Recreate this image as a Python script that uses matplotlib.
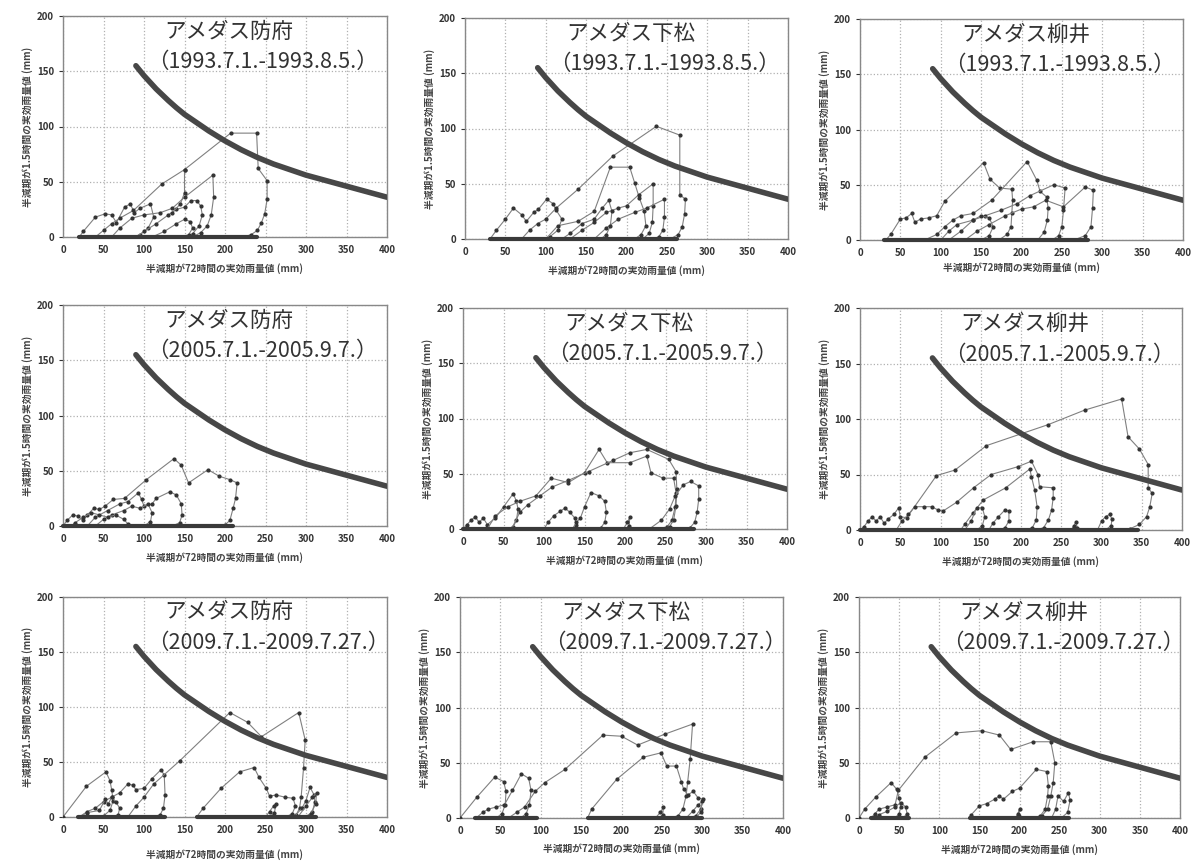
import matplotlib
matplotlib.use("Agg")
import matplotlib.pyplot as plt

plt.rcParams['font.family'] = ['Noto Sans CJK JP', 'DejaVu Sans']

# critical line (shared by all panels)
curve_x = [90, 95, 100, 105, 110, 115, 120, 130, 140, 150, 160, 170, 180, 190, 200, 210, 220, 230, 240,
           250, 260, 270, 280, 290, 300, 320, 340, 360, 380, 400]
curve_y = [155, 150.5, 146, 142, 138, 134, 130.5, 123.5, 117, 111, 106, 101, 96, 91.5, 87, 83, 79, 75.5,
           72, 69, 66, 63.5, 61, 58.5, 56, 52, 48, 44, 40, 36]

xticks = [0, 50, 100, 150, 200, 250, 300, 350, 400]
yticks = [0, 50, 100, 150, 200]

stations = ["アメダス防府", "アメダス下松", "アメダス柳井"]
periods = ["（1993.7.1.-1993.8.5.）", "（2005.7.1.-2005.9.7.）", "（2009.7.1.-2009.7.27.）"]

xlabel = "半減期が72時間の実効雨量値 (mm)"
ylabel = "半減期が1.5時間の実効雨量値 (mm)"

# snake lines, one list of loops per panel: (x72h, y1.5h)
hofu_1993 = [
    [(20, 0), (25, 5), (40, 18), (52, 21), (60, 20), (66, 13), (76, 27), (83, 30), (88, 22), (95, 26),
     (108, 30), (112, 18), (105, 8), (95, 2), (85, 0)],
    [(40, 0), (50, 6), (60, 12), (70, 17), (87, 24), (122, 48), (150, 61), (207, 94), (239, 94), (241, 62),
     (252, 51), (252, 34), (249, 21), (245, 13), (240, 6), (232, 2), (222, 0)],
    [(60, 0), (70, 8), (85, 17), (100, 20), (120, 22), (135, 26), (150, 36), (185, 56), (186, 36), (183, 20),
     (178, 10), (170, 4), (160, 0)],
    [(90, 0), (100, 5), (115, 12), (130, 20), (140, 25), (150, 27), (158, 33), (165, 33), (170, 28), (172, 20),
     (168, 10), (160, 3), (150, 0)],
    [(110, 0), (125, 5), (140, 12), (150, 16), (157, 14), (160, 8), (155, 2), (145, 0)],
    [(150, 61), (150, 40), (145, 30), (135, 22)],
]
kudamatsu_1993 = [
    [(31, 0), (39, 8), (50, 18), (60, 28), (70, 22), (76, 16), (85, 24), (91, 27), (101, 36), (109, 32),
     (113, 26), (120, 18), (115, 8), (105, 2), (95, 0)],
    [(70, 0), (80, 8), (90, 14), (100, 18), (113, 28), (140, 45), (183, 75), (237, 102), (266, 94), (266, 40),
     (273, 36), (272, 23), (269, 11), (264, 4), (254, 0)],
    [(100, 0), (115, 12), (140, 16), (160, 25), (180, 65), (204, 65), (210, 51), (216, 37), (222, 25),
     (224, 12), (218, 4), (210, 0)],
    [(130, 0), (145, 8), (160, 15), (175, 24), (190, 28), (200, 30), (215, 40), (233, 50), (233, 30),
     (232, 15), (228, 5), (220, 0)],
    [(160, 0), (175, 10), (190, 18), (210, 24), (225, 28), (247, 36), (247, 20), (245, 8), (240, 2), (232, 0)],
    [(120, 0), (130, 5), (145, 14), (160, 18), (170, 28), (178, 35), (182, 25), (180, 12), (175, 4), (168, 0)],
]
yanai_1993 = [
    [(32, 0), (38, 5), (50, 19), (57, 20), (64, 24), (68, 16), (75, 19), (85, 20), (95, 22), (105, 35),
     (153, 70), (161, 55), (173, 47), (188, 46), (189, 36), (188, 24), (187, 12), (182, 5), (172, 0)],
    [(80, 0), (95, 5), (105, 12), (115, 18), (125, 22), (140, 24), (163, 36), (207, 71), (219, 54), (223, 44),
     (231, 39), (233, 29), (232, 18), (228, 7), (220, 0)],
    [(100, 0), (110, 8), (120, 14), (140, 18), (155, 22), (175, 27), (195, 33), (210, 40), (240, 50),
     (254, 47), (252, 27), (250, 12), (246, 4), (238, 0)],
    [(130, 0), (145, 8), (160, 14), (180, 22), (200, 28), (215, 30), (230, 36), (252, 30), (279, 48),
     (289, 45), (288, 29), (286, 12), (279, 4), (265, 0)],
    [(110, 0), (125, 8), (140, 18), (150, 22), (160, 20), (165, 12), (160, 4), (150, 0)],
]
hofu_2005 = [
    [(0, 0), (5, 5), (12, 10), (18, 9), (25, 5), (30, 10), (38, 16), (45, 15), (52, 18), (62, 24), (76, 25),
     (103, 42), (137, 61), (146, 55), (155, 39), (179, 51), (193, 45), (206, 42), (215, 39), (213, 25),
     (210, 16), (206, 5), (200, 1), (185, 0)],
    [(30, 0), (40, 8), (55, 14), (70, 20), (80, 22), (93, 30), (97, 24), (100, 18), (110, 20), (115, 25),
     (132, 31), (140, 28), (146, 20), (147, 10), (144, 3), (135, 0)],
    [(40, 0), (50, 6), (60, 10), (75, 14), (85, 18), (95, 16), (105, 20), (110, 12), (108, 4), (100, 0)],
    [(10, 0), (15, 3), (25, 8), (35, 12), (45, 10), (55, 8), (65, 10), (75, 6), (80, 2), (75, 0)],
]
kudamatsu_2005 = [
    [(0, 0), (5, 4), (10, 8), (15, 11), (20, 6), (25, 10), (30, 4), (40, 10), (50, 20), (62, 32), (66, 25),
     (68, 18), (66, 8), (62, 2), (55, 0)],
    [(30, 0), (40, 12), (55, 20), (70, 25), (90, 30), (109, 46), (130, 42), (150, 51), (168, 72), (178, 60),
     (206, 60), (227, 66), (232, 51), (247, 46), (260, 46), (263, 33), (262, 20), (258, 8), (252, 2), (240, 0)],
    [(60, 0), (70, 15), (80, 22), (95, 30), (110, 38), (130, 44), (155, 52), (185, 62), (206, 69), (227, 72),
     (254, 63), (263, 52), (264, 36), (263, 21), (260, 8), (255, 2), (245, 0)],
    [(100, 0), (105, 6), (112, 12), (120, 16), (126, 19), (132, 15), (138, 10), (140, 4), (135, 0)],
    [(135, 0), (140, 6), (145, 10), (150, 20), (158, 33), (168, 30), (175, 25), (177, 15), (175, 6),
     (170, 1), (160, 0)],
    [(230, 0), (245, 8), (255, 18), (262, 30), (272, 40), (281, 43), (291, 39), (291, 27), (289, 15),
     (286, 6), (280, 1), (270, 0)],
    [(198, 0), (203, 6), (206, 11), (205, 3), (200, 0)],
]
yanai_2005 = [
    [(0, 0), (5, 3), (10, 8), (15, 12), (20, 8), (25, 12), (30, 6), (35, 10), (42, 14), (48, 20), (50, 12),
     (58, 11), (95, 49), (118, 54), (157, 76), (234, 95), (279, 108), (325, 118), (333, 84), (347, 73),
     (358, 59), (358, 38), (363, 33), (360, 21), (356, 12), (347, 5), (335, 1), (320, 0)],
    [(45, 0), (52, 8), (60, 14), (68, 21), (80, 21), (89, 21), (97, 18), (103, 17), (120, 25), (141, 38),
     (163, 50), (196, 57), (213, 62), (221, 50), (223, 39), (240, 38), (240, 29), (238, 18), (234, 9),
     (228, 2), (218, 0)],
    [(125, 0), (130, 5), (140, 15), (153, 27), (181, 38), (211, 55), (213, 48), (217, 36), (220, 21),
     (219, 9), (214, 2), (205, 0)],
    [(130, 0), (138, 8), (145, 20), (152, 20), (155, 12), (152, 4), (145, 0)],
    [(160, 0), (165, 6), (172, 12), (180, 18), (185, 17), (185, 8), (180, 2), (172, 0)],
    [(295, 0), (300, 8), (305, 12), (310, 14), (313, 10), (312, 4), (305, 0)],
    [(262, 0), (266, 4), (268, 7), (270, 2), (266, 0)],
]
hofu_2009 = [
    [(0, 0), (29, 28), (53, 41), (58, 33), (60, 25), (62, 15), (58, 6), (50, 1), (40, 0)],
    [(20, 0), (30, 5), (40, 8), (50, 14), (60, 18), (70, 22), (80, 30), (86, 29), (90, 25), (100, 26),
     (110, 35), (121, 43), (125, 38), (126, 20), (124, 8), (120, 2), (110, 0)],
    [(80, 0), (90, 10), (100, 18), (112, 30), (144, 51), (206, 95), (228, 86), (245, 73), (291, 95),
     (299, 70), (297, 45), (294, 18), (292, 8), (288, 2), (280, 0)],
    [(165, 0), (173, 8), (195, 26), (218, 41), (236, 45), (242, 36), (251, 26), (255, 19), (263, 20),
     (274, 18), (284, 17), (287, 10), (283, 3), (275, 0)],
    [(250, 0), (255, 5), (260, 10), (263, 12), (261, 4), (255, 0)],
    [(285, 0), (295, 8), (300, 15), (305, 27), (310, 20), (311, 14), (308, 5), (300, 0)],
    [(290, 0), (300, 10), (308, 18), (313, 22), (312, 12), (306, 3), (298, 0)],
    [(20, 0), (30, 4), (45, 6), (52, 16), (56, 12), (60, 18), (65, 14), (70, 8), (68, 2), (60, 0)],
]
kudamatsu_2009 = [
    [(0, 0), (21, 19), (43, 37), (54, 33), (57, 24), (56, 12), (52, 4), (45, 0)],
    [(20, 0), (28, 5), (35, 8), (45, 10), (55, 12), (65, 25), (76, 40), (85, 36), (88, 25), (86, 12),
     (82, 4), (75, 0)],
    [(60, 0), (70, 5), (80, 10), (93, 24), (105, 32), (130, 44), (177, 75), (200, 74), (220, 66), (254, 76),
     (288, 85), (285, 53), (282, 33), (280, 20), (276, 8), (270, 2), (260, 0)],
    [(158, 0), (163, 8), (194, 35), (227, 55), (249, 59), (256, 47), (268, 47), (274, 33), (277, 26),
     (282, 21), (289, 24), (295, 18), (301, 17), (298, 8), (292, 2), (283, 0)],
    [(242, 0), (248, 5), (252, 10), (251, 3), (246, 0)],
    [(280, 0), (288, 6), (295, 12), (300, 15), (298, 5), (292, 0)],
]
yanai_2009 = [
    [(0, 0), (7, 8), (21, 19), (40, 32), (47, 26), (50, 18), (52, 10), (50, 4), (45, 0)],
    [(15, 0), (20, 4), (25, 8), (35, 10), (45, 12), (49, 25), (82, 55), (121, 77), (153, 79), (175, 75),
     (189, 62), (217, 69), (239, 69), (244, 50), (242, 32), (239, 20), (235, 8), (228, 2), (218, 0)],
    [(20, 0), (25, 3), (35, 6), (45, 10), (52, 14), (58, 10), (60, 4), (55, 0)],
    [(138, 0), (140, 3), (150, 11), (159, 13), (169, 17), (175, 20), (180, 17), (191, 24), (200, 27),
     (221, 44), (234, 42), (236, 29), (235, 20), (232, 8), (226, 2), (218, 0)],
    [(240, 0), (245, 8), (248, 20), (255, 15), (261, 23), (263, 16), (260, 5), (252, 0)],
    [(195, 0), (198, 4), (200, 8), (199, 2), (196, 0)],
]

# dense dots along y = 0 (start, end of x72h)
base_1993 = [[(20, 240)], [(31, 262)], [(30, 282)]]
base_2005 = [[(0, 210)], [(0, 285)], [(0, 345)]]
base_2009 = [[(18, 126), (165, 312)], [(18, 95), (158, 300)], [(15, 62), (138, 262)]]

panels = [hofu_1993, kudamatsu_1993, yanai_1993,
          hofu_2005, kudamatsu_2005, yanai_2005,
          hofu_2009, kudamatsu_2009, yanai_2009]
bases = base_1993 + base_2005 + base_2009

# axes boxes in pixels: left, right, top, bottom
W, H = 1192, 861
lefts = [63, 465, 860, 63, 463, 860, 63, 460, 859]
rights = [387, 788, 1183, 387, 787, 1182, 387, 783, 1180]
tops = [16, 18, 19, 305, 308, 308, 597, 597, 597]
bottoms = [237, 239, 240, 526, 529, 530, 817, 818, 818]
xlabel_pads = [6, 6, 3, 6, 6, 6, 10, 5, 6]

fig = plt.figure(figsize=(W / 100, H / 100), dpi=100)
fig.patch.set_facecolor('white')

for i in range(9):
    l, r, t, b = lefts[i], rights[i], tops[i], bottoms[i]
    ax = fig.add_axes([l / W, (H - b) / H, (r - l) / W, (b - t) / H])
    ax.set_xlim(0, 400)
    ax.set_ylim(0, 200)
    ax.set_xticks(xticks)
    ax.set_yticks(yticks)
    ax.grid(True, color='#b0b0b0', linestyle=':', linewidth=0.9)
    ax.set_axisbelow(True)
    for s in ax.spines.values():
        s.set_color('#888888')
        s.set_linewidth(1.0)
    ax.tick_params(axis='both', labelsize=7, colors='#333333', length=3, width=0.8)
    ax.tick_params(axis='x', length=0, pad=6)
    for lab in ax.get_xticklabels() + ax.get_yticklabels():
        lab.set_fontweight('bold')
    ax.set_xlabel(xlabel, fontsize=7, fontweight='bold', color='#444444', labelpad=xlabel_pads[i])
    ax.set_ylabel(ylabel, fontsize=7, fontweight='bold', color='#444444', labelpad=3)

    for x0, x1 in bases[i]:
        ax.plot([x0, x1], [0, 0], color='#3a3a3a', linewidth=3.0, solid_capstyle='round',
                zorder=6, clip_on=False)
    for loop in panels[i]:
        xs = [p[0] for p in loop]
        ys = [p[1] for p in loop]
        ax.plot(xs, ys, color='#808080', linewidth=0.8, marker='o', markersize=2.0,
                markerfacecolor='#333333', markeredgecolor='#333333', zorder=4)

    ax.plot(curve_x, curve_y, color='#474747', linewidth=4.0, solid_capstyle='round',
            solid_joinstyle='round', zorder=5)

    ax.text(125, 186, stations[i % 3], fontsize=15.5, color='#333333', ha='left', va='center', zorder=7)
    ax.text(104, 158, periods[i // 3], fontsize=15.5, color='#333333', ha='left', va='center', zorder=7)

fig.savefig("out.png", dpi=100, facecolor='white')
